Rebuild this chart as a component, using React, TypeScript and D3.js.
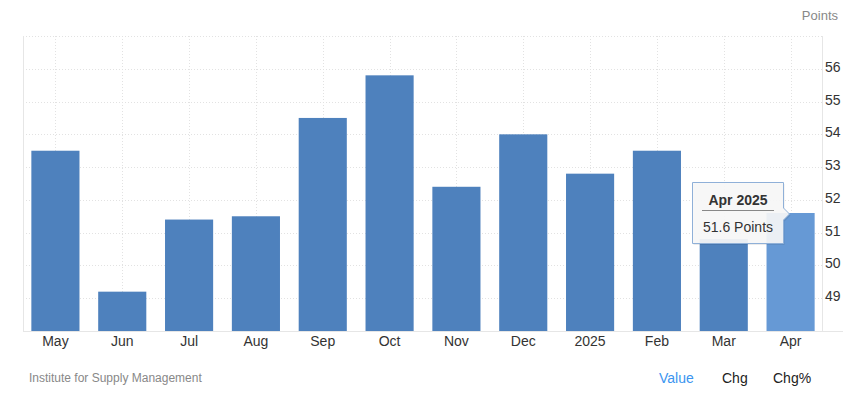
import { useRef, useEffect } from 'react';
import * as d3 from 'd3';

const months = ['May', 'Jun', 'Jul', 'Aug', 'Sep', 'Oct', 'Nov', 'Dec', '2025', 'Feb', 'Mar', 'Apr'];
const values = [53.5, 49.2, 51.4, 51.5, 54.5, 55.8, 52.4, 54.0, 52.8, 53.5, 50.8, 51.6];
const yTicks = [49, 50, 51, 52, 53, 54, 55, 56];
const gridTicks = [48, 49, 50, 51, 52, 53, 54, 55, 56, 57];
const footerTabs = ['Value', 'Chg', 'Chg%'];

const WIDTH = 848;
const HEIGHT = 403;
const FONT = '"Liberation Sans", Arial, sans-serif';

export default function App() {
  const svgRef = useRef<SVGSVGElement>(null);

  useEffect(() => {
    if (!svgRef.current) return;
    const svg = d3.select(svgRef.current);
    svg.selectAll('*').remove();

    const left = 23;
    const right = 822;
    const top = 36;
    const bottom = 331;

    const x = d3
      .scaleBand()
      .domain(months)
      .range([22, 824])
      .paddingInner(0.28)
      .paddingOuter(0.14);

    const y = d3.scaleLinear().domain([48, 57]).range([bottom, top]);

    // horizontal dotted grid
    svg
      .append('g')
      .selectAll('line')
      .data(gridTicks.slice(1))
      .join('line')
      .attr('x1', left)
      .attr('x2', right)
      .attr('y1', (d) => Math.round(y(d)) + 0.5)
      .attr('y2', (d) => Math.round(y(d)) + 0.5)
      .attr('stroke', '#e2e2e2')
      .attr('stroke-dasharray', '1,2');

    // vertical dotted grid at band centers
    svg
      .append('g')
      .selectAll('line')
      .data(months)
      .join('line')
      .attr('x1', (d) => Math.round((x(d) || 0) + x.bandwidth() / 2) + 0.5)
      .attr('x2', (d) => Math.round((x(d) || 0) + x.bandwidth() / 2) + 0.5)
      .attr('y1', top)
      .attr('y2', bottom)
      .attr('stroke', '#e2e2e2')
      .attr('stroke-dasharray', '1,2');

    // axis frame lines
    svg
      .append('line')
      .attr('x1', left + 0.5)
      .attr('x2', left + 0.5)
      .attr('y1', top)
      .attr('y2', bottom)
      .attr('stroke', '#e6e6e6');
    svg
      .append('line')
      .attr('x1', right + 0.5)
      .attr('x2', right + 0.5)
      .attr('y1', top)
      .attr('y2', bottom)
      .attr('stroke', '#e6e6e6');

    // bars
    svg
      .append('g')
      .selectAll('rect')
      .data(values)
      .join('rect')
      .attr('x', (_, i) => x(months[i]) || 0)
      .attr('width', x.bandwidth())
      .attr('y', (d) => y(d))
      .attr('height', (d) => bottom - y(d))
      .attr('fill', (_, i) => (i === values.length - 1 ? '#6699d5' : '#4e81bd'));

    // bottom axis line
    svg
      .append('line')
      .attr('x1', left)
      .attr('x2', 843)
      .attr('y1', bottom + 0.5)
      .attr('y2', bottom + 0.5)
      .attr('stroke', '#e6e6e6');

    // x labels
    svg
      .append('g')
      .selectAll('text')
      .data(months)
      .join('text')
      .attr('x', (d) => (x(d) || 0) + x.bandwidth() / 2)
      .attr('y', 346)
      .attr('text-anchor', 'middle')
      .attr('font-family', FONT)
      .attr('font-size', 14)
      .attr('fill', '#333')
      .text((d) => d);

    // y labels
    svg
      .append('g')
      .selectAll('text')
      .data(yTicks)
      .join('text')
      .attr('x', 825)
      .attr('y', (d) => y(d) + 3)
      .attr('font-family', FONT)
      .attr('font-size', 14)
      .attr('fill', '#333')
      .text((d) => d);

    // unit label
    svg
      .append('text')
      .attr('x', 838)
      .attr('y', 20)
      .attr('text-anchor', 'end')
      .attr('font-family', FONT)
      .attr('font-size', 13)
      .attr('fill', '#888')
      .text('Points');

    // footer
    svg
      .append('text')
      .attr('x', 29)
      .attr('y', 382)
      .attr('font-family', FONT)
      .attr('font-size', 12)
      .attr('fill', '#888')
      .text('Institute for Supply Management');

    const tabX = [659, 722, 773];
    svg
      .append('g')
      .selectAll('text')
      .data(footerTabs)
      .join('text')
      .attr('x', (_, i) => tabX[i])
      .attr('y', 383)
      .attr('font-family', FONT)
      .attr('font-size', 14)
      .attr('fill', (_, i) => (i === 0 ? '#3b95f0' : '#222'))
      .text((d) => d);

    // tooltip for last bar
    const last = values.length - 1;
    const tipX = 692.5;
    const tipY = 182.5;
    const tipW = 91;
    const tipH = 61;
    const pointerY = 214;
    const tip = svg.append('g');
    const path = `M${tipX},${tipY} H${tipX + tipW} V${pointerY - 6} L${tipX + tipW + 6},${pointerY} L${tipX + tipW},${pointerY + 6} V${tipY + tipH} H${tipX} Z`;
    tip
      .append('path')
      .attr('d', path)
      .attr('transform', 'translate(1,1.5)')
      .attr('fill', 'rgba(0,0,0,0.08)');
    tip
      .append('path')
      .attr('d', path)
      .attr('fill', 'rgba(247,247,247,0.92)')
      .attr('stroke', '#8fb0d8')
      .attr('stroke-width', 1);
    const cx = tipX + tipW / 2;
    tip
      .append('text')
      .attr('x', cx)
      .attr('y', 205)
      .attr('text-anchor', 'middle')
      .attr('font-family', FONT)
      .attr('font-size', 14)
      .attr('font-weight', 'bold')
      .attr('fill', '#333')
      .text(`${months[last]} 2025`);
    tip
      .append('line')
      .attr('x1', 702)
      .attr('x2', 774)
      .attr('y1', 210.5)
      .attr('y2', 210.5)
      .attr('stroke', '#888');
    tip
      .append('text')
      .attr('x', cx)
      .attr('y', 232)
      .attr('text-anchor', 'middle')
      .attr('font-family', FONT)
      .attr('font-size', 14)
      .attr('fill', '#333')
      .text(`${values[last]} Points`);
  }, []);

  return (
    <svg
      ref={svgRef}
      width={WIDTH}
      height={HEIGHT}
      style={{ position: 'absolute', left: 0, top: 0, background: '#fff' }}
    />
  );
}
